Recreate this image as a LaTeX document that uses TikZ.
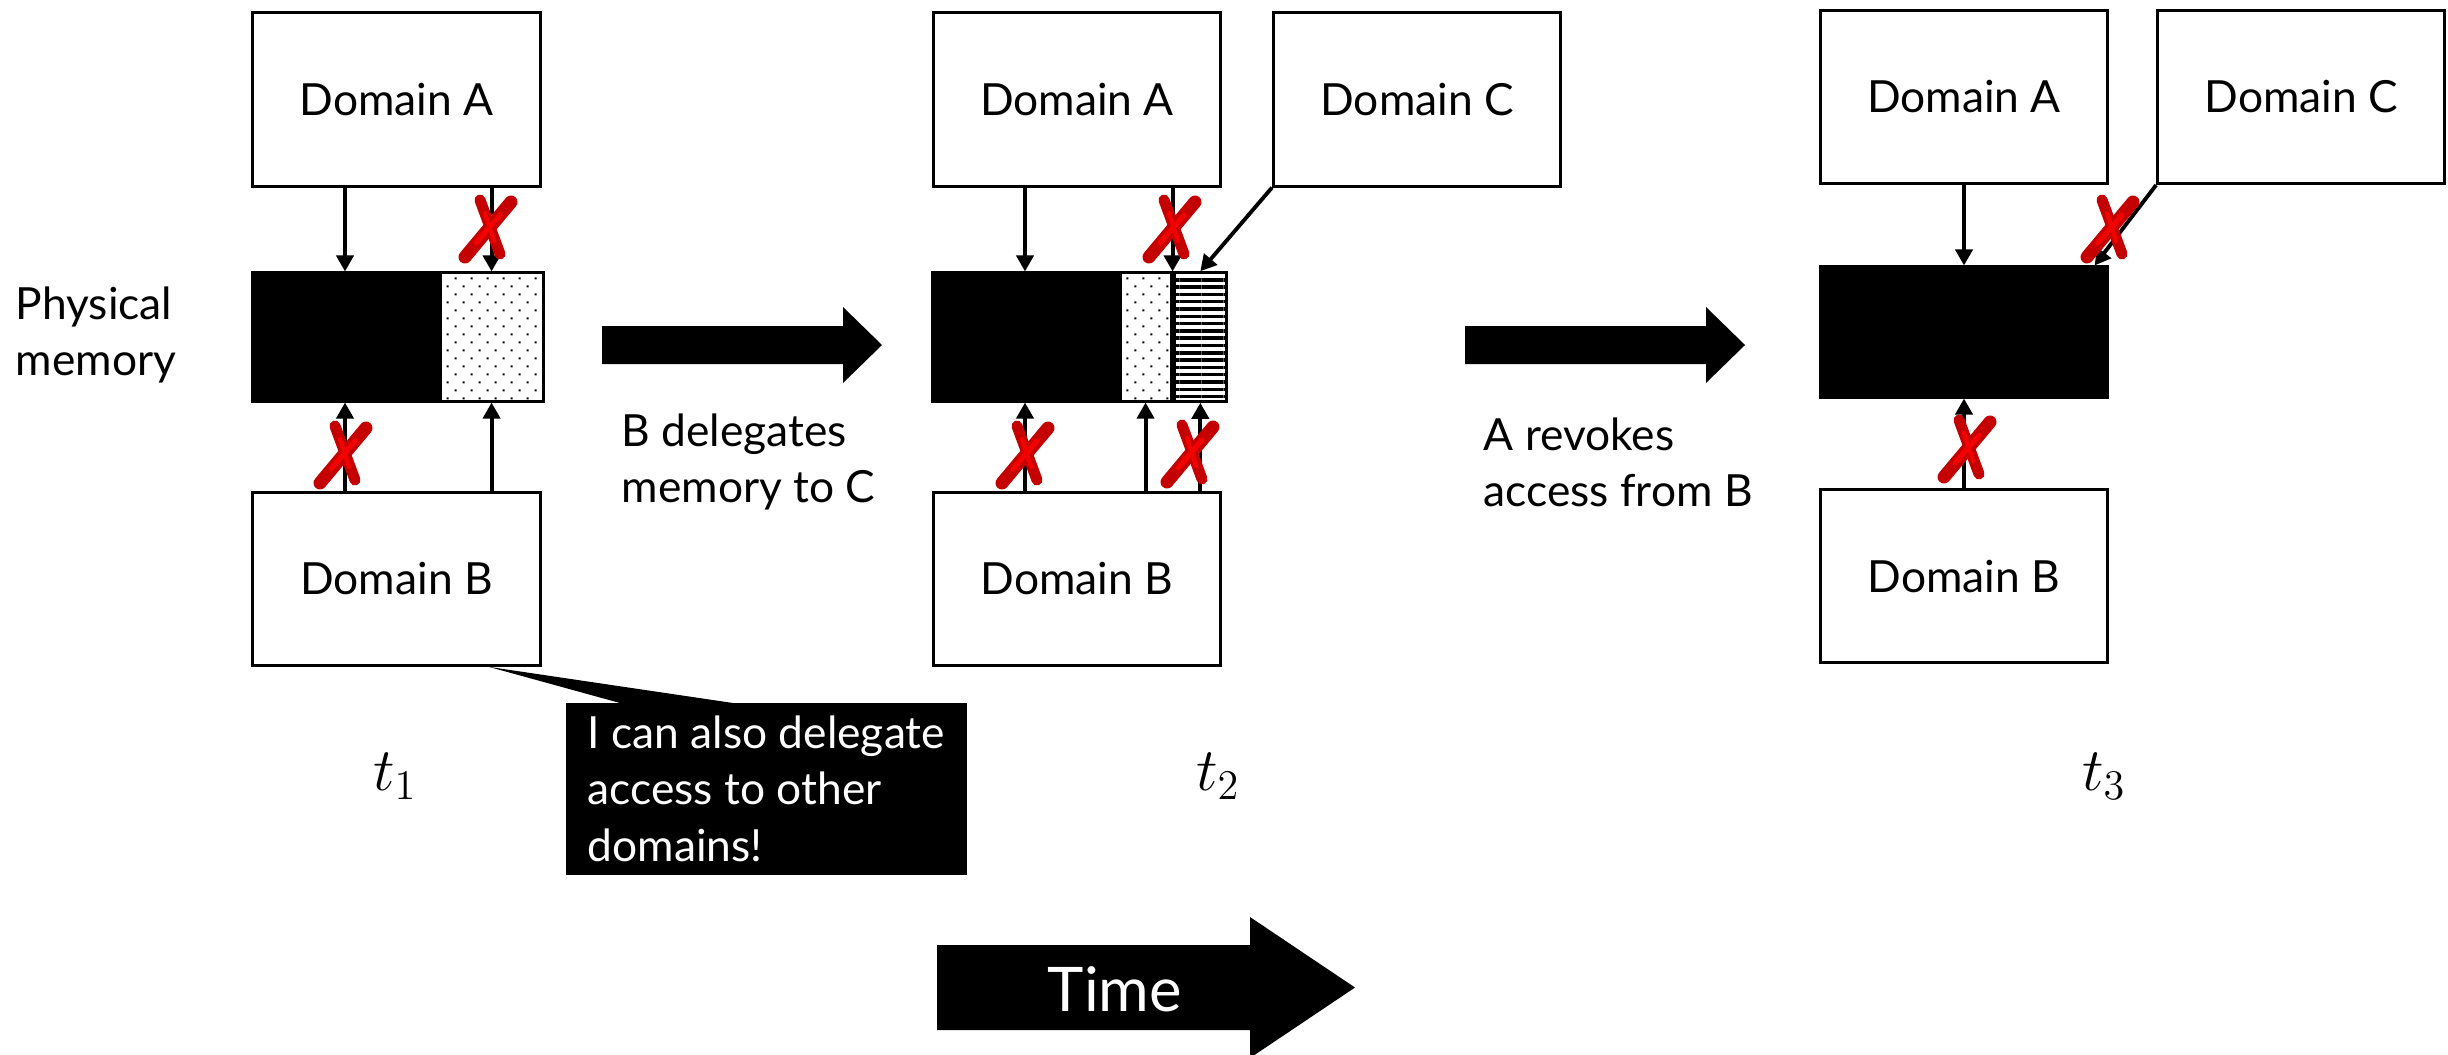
\documentclass[tikz,border=0pt]{standalone}
\usepackage{fontspec}
\setmainfont{Lato}
\usepackage{tikz}
\usetikzlibrary{positioning,arrows.meta,patterns.meta,calc}

\definecolor{xred}{RGB}{196,0,0}
\definecolor{xhot}{RGB}{245,0,0}

\tikzset{
  dom/.style={draw, rectangle, line width=0.85pt, minimum width=2.87cm, minimum height=1.73cm},
  blk/.style={draw, rectangle, fill=black, line width=0.85pt, minimum height=1.28cm, inner sep=0pt},
  spots/.style={draw, rectangle, line width=0.85pt, minimum height=1.28cm, inner sep=0pt,
    pattern={Dots[distance=0.113cm, angle=45, radius=0.4pt]}, pattern color=black},
  stripes/.style={draw, rectangle, line width=0.85pt, minimum height=1.28cm, inner sep=0pt,
    pattern={Lines[distance=0.073cm, line width=0.035cm]}, pattern color=black},
  link/.style={line width=1.1pt, -{Triangle[length=0.16cm, width=0.17cm]}},
  % red cross over a forbidden access
  nope/.pic={
    \draw[xred, line width=0.13cm, line cap=round] (-23,30) -- (23,-25);
    \draw[xred, line width=0.11cm, line cap=round] (-8,-27) -- (12,27);
    \draw[xhot, line width=0.05cm, line cap=round] (-12,16) -- (12,-12);
    \draw[xhot, line width=0.04cm, line cap=round] (-3,-14) -- (6,14);
  },
  fatarrow/.pic={
    \fill (0,-19) -- (241,-19) -- (241,-38) -- (280,0) -- (241,38) -- (241,19) -- (0,19) -- cycle;
  }
}

\begin{document}
\begin{tikzpicture}[x=0.01cm, y=-0.01cm, font=\fontsize{12.6}{16}\selectfont]
  \useasboundingbox (0,0) rectangle (2448,1054);

  % t1: A owns everything, B got the dotted part
  \node (a1) [dom] at (396.5,99.5) {Domain A};
  \node (b1) [dom, below=3.03cm of a1] {Domain B};
  \node (k1) [blk, minimum width=1.84cm] at (345,337) {};
  \node (d1) [spots, right=0pt of k1, minimum width=1.03cm] {};
  \node (phys) [align=left, anchor=west, inner sep=0pt] at (15,335) {Physical\\memory};

  \draw[link] (a1.south -| k1.north) -- (k1.north);
  \draw[link] (a1.south -| d1.north) -- (d1.north);
  \draw[link] (b1.north -| k1.south) -- (k1.south);
  \draw[link] (b1.north -| d1.south) -- (d1.south);
  \pic at (488,227) {nope};
  \pic at (343,453) {nope};

  \node (note) [fill=black, text=white, align=left, anchor=north west, minimum width=4.01cm,
    minimum height=1.72cm] at (565,702) {I can also delegate\\access to other\\domains!};
  \coordinate (hint) at ($(b1.south east)+(-53,0)$);
  \fill (hint) -- ($(note.north west)+(55,1)$) -- ($(note.north west)+(168,1)$) -- cycle;

  \node (t1) [font=\fontsize{17}{20}\selectfont] at (395,776) {$t_1$};

  \pic at (602,345) {fatarrow};
  \node (delg) [align=left, anchor=west, inner sep=0pt] at (621,462) {B delegates\\memory to C};

  % t2: B hands part of its share to C
  \node (a2) [dom, right of=a1, node distance=6.8cm] {Domain A};
  \node (c2) [dom, right of=a2, node distance=3.4cm] {Domain C};
  \node (b2) [dom, below=3.03cm of a2] {Domain B};
  \node (k2) [blk, minimum width=1.84cm] at (1025,337) {};
  \node (d2) [spots, right=0pt of k2, minimum width=0.51cm] {};
  \node (s2) [stripes, right=0pt of d2, minimum width=0.52cm] {};

  \draw[link] (a2.south -| k2.north) -- (k2.north);
  \draw[link] (a2.south -| d2.north east) -- (d2.north east);
  \draw[link] (c2.south west) -- (s2.north);
  \draw[link] (b2.north -| k2.south) -- (k2.south);
  \draw[link] (b2.north -| d2.south) -- (d2.south);
  \draw[link] (b2.north -| s2.south) -- (s2.south);
  \pic at (1172,227) {nope};
  \pic at (1025,453) {nope};
  \pic at (1190,452) {nope};

  \node (t2) [font=\fontsize{17}{20}\selectfont] at (1218,776) {$t_2$};

  \pic at (1465,345) {fatarrow};
  \node (revk) [align=left, anchor=west, inner sep=0pt] at (1483,462) {A revokes\\access from B};

  % t3: A took it all back
  \node (a3) [dom] at (1964,97) {Domain A};
  \node (c3) [dom, right of=a3, node distance=3.37cm] {Domain C};
  \node (b3) [dom, below=3.03cm of a3] {Domain B};
  \node (k3) [blk, minimum width=2.86cm, minimum height=1.30cm] at (1964,332) {};

  \draw[link] (a3.south -| k3.north) -- (k3.north);
  \draw[link] (c3.south west) -- (k3.27);
  \draw[link] (b3.north -| k3.south) -- (k3.south);
  \pic at (2110,227) {nope};
  \pic at (1967,447) {nope};

  \node (t3) [font=\fontsize{17}{20}\selectfont] at (2104,776) {$t_3$};

  % time line
  \fill (937,945) -- (1250,945) -- (1250,917) -- (1355,987.5) -- (1250,1058) -- (1250,1030) -- (937,1030) -- cycle;
  \node (time) [text=white, font=\fontsize{17.5}{20}\selectfont] at (1115,989) {Time};
\end{tikzpicture}
\end{document}
